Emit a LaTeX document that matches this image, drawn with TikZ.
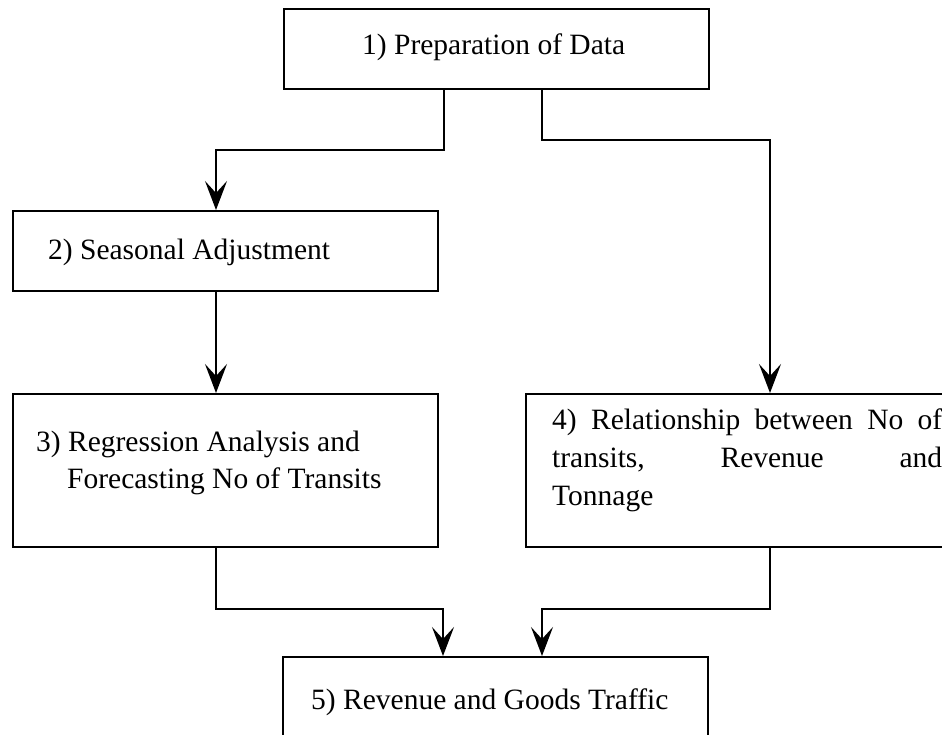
\documentclass[tikz,border=0pt]{standalone}
\usepackage{fontspec}
\setmainfont{Liberation Serif}
\usetikzlibrary{arrows.meta}
\begin{document}
\begin{tikzpicture}[x=1pt,y=-1pt,
  box/.style={draw, line width=2pt, inner sep=0pt, anchor=north west},
  lbl/.style={inner sep=0pt, anchor=base west, font=\fontsize{29.5}{37.5}\selectfont},
  arr/.style={line width=2pt, -{Stealth[length=29pt,width=22pt,inset=12pt]}}]
\useasboundingbox (0,0) rectangle (942,735);
\clip (0,0) rectangle (942,735);
% boxes
\node[box, minimum width=425pt, minimum height=80pt] (b1) at (283,8) {};
\node[box, minimum width=425pt, minimum height=80pt] (b2) at (12,210) {};
\node[box, minimum width=425pt, minimum height=153pt] (b3) at (12,393) {};
\node[box, minimum width=440pt, minimum height=153pt] (b4) at (525,393) {};
\node[box, minimum width=425pt, minimum height=120pt] (b5) at (282,656) {};
% texts
\node[lbl] (t1) at (362,55) {1) Preparation of Data};
\node[lbl] (t2) at (48,260) {2) Seasonal Adjustment};
\node[lbl] (t3a) at (36,451) {3) Regression Analysis and};
\node[lbl] (t3b) at (67,488) {Forecasting No of Transits};
\node[lbl] (t4a) at (552,429) {\hbox to 390pt{4)\hfill Relationship\hfill between\hfill No\hfill of}};
\node[lbl] (t4b) at (552,467) {\hbox to 390pt{transits,\hfill Revenue\hfill and}};
\node[lbl] (t4c) at (552,505) {Tonnage};
\node[lbl] (t5) at (311,709) {5) Revenue and Goods Traffic};
% connectors
\draw[arr] ([xshift=161pt]b1.south west) -- ++(0,60) -| ([xshift=204pt]b2.north west);
\draw[arr] ([xshift=259pt]b1.south west) -- ++(0,50) -| ([xshift=245pt]b4.north west);
\draw[arr] ([xshift=204pt]b2.south west) -- ([xshift=204pt]b3.north west);
\draw[arr] ([xshift=204pt]b3.south west) -- ++(0,61) -| ([xshift=161pt]b5.north west);
\draw[arr] ([xshift=245pt]b4.south west) -- ++(0,61) -| ([xshift=260pt]b5.north west);
\end{tikzpicture}
\end{document}
